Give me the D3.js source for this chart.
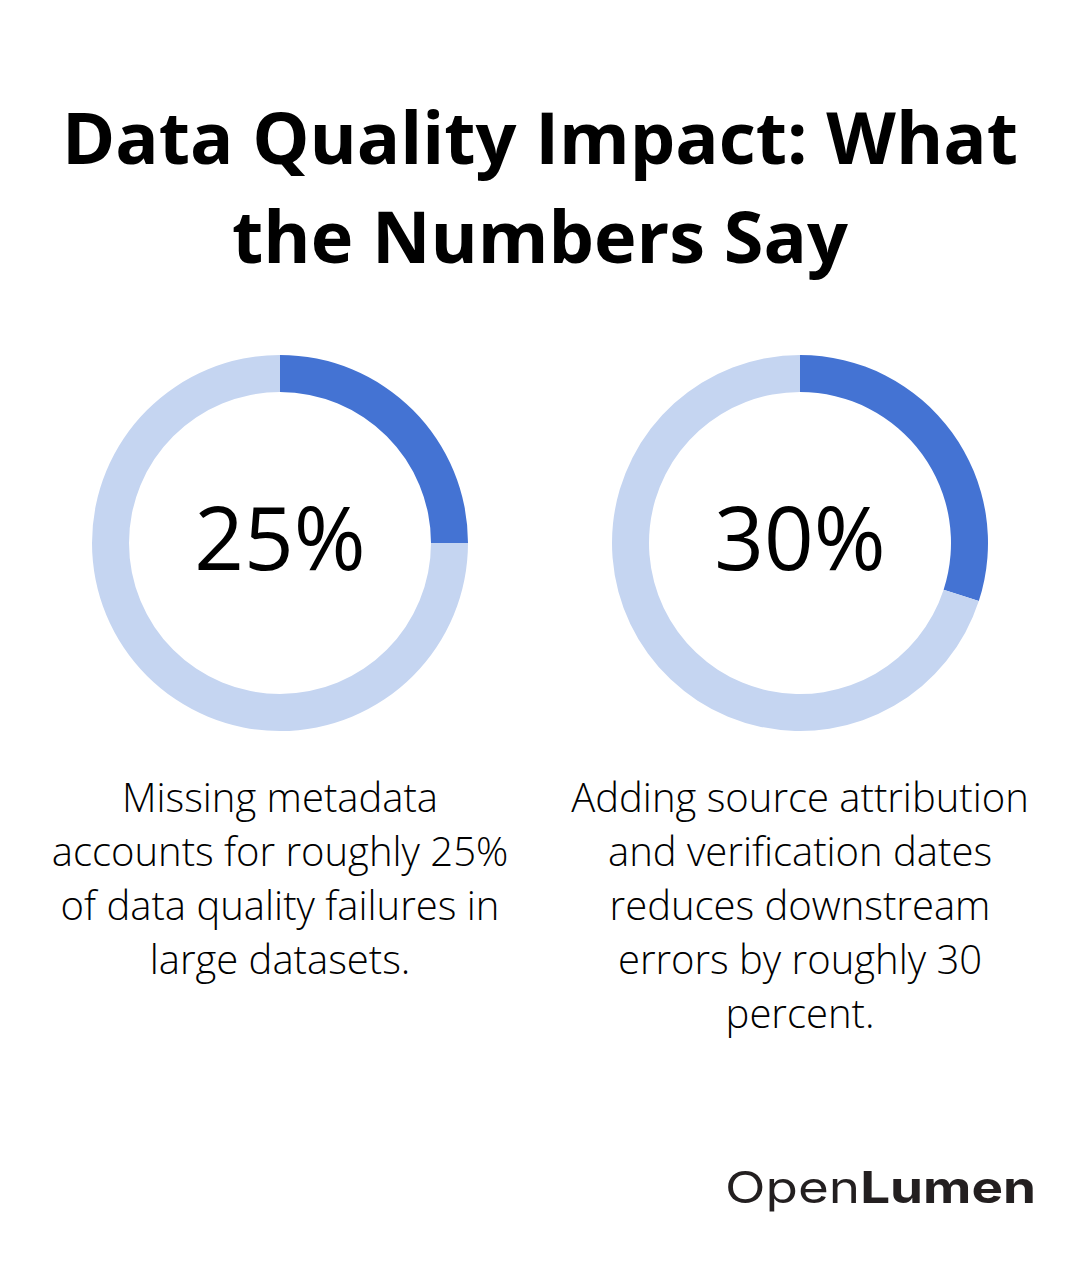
<!DOCTYPE html>
<html>
<head>
<meta charset="utf-8">
<script src="https://cdn.jsdelivr.net/npm/d3@7"></script>
<style>
  html, body { margin: 0; padding: 0; background: #ffffff; }
  svg { display: block; }
</style>
</head>
<body>
<div id="chart"></div>
<script>
// chart data
var titleLines = ['Data Quality Impact: What', 'the Numbers Say'];
var percents = [25, 30];
var valueLabels = ['25%', '30%'];
var descriptions = [
  ['Missing metadata', 'accounts for roughly 25%', 'of data quality failures in', 'large datasets.'],
  ['Adding source attribution', 'and verification dates', 'reduces downstream', 'errors by roughly 30', 'percent.']
];

var width = 1080, height = 1272;
var darkBlue = '#4473d3';
var lightBlue = '#c5d5f1';

var svg = d3.select('#chart').append('svg')
  .attr('width', width)
  .attr('height', height);

// title
svg.append('text')
  .attr('text-anchor', 'middle')
  .style('font-family', '"Open Sans", sans-serif')
  .style('font-weight', 700)
  .style('font-size', '72px')
  .style('fill', '#000')
  .selectAll('tspan')
  .data(titleLines)
  .join('tspan')
  .attr('x', width / 2)
  .attr('y', function(d, i) { return 164 + i * 99; })
  .text(function(d) { return d; });

// column positions
var x = d3.scalePoint()
  .domain(d3.range(percents.length))
  .range([280, 800]);

var pie = d3.pie().sort(null).value(function(d) { return d; });
var arc = d3.arc().innerRadius(151).outerRadius(188);

var groups = svg.selectAll('g.stat')
  .data(percents)
  .join('g')
  .attr('class', 'stat')
  .attr('transform', function(d, i) { return 'translate(' + x(i) + ',543)'; });

//donut ring: value part and the rest
groups.selectAll('path')
  .data(function(d) { return pie([d, 100 - d]); })
  .join('path')
  .attr('d', arc)
  .style('fill', function(d, i) { return i === 0 ? darkBlue : lightBlue; });

// big number in the middle
groups.append('text')
  .attr('text-anchor', 'middle')
  .attr('y', 27)
  .style('font-family', '"Open Sans", sans-serif')
  .style('font-weight', 400)
  .style('font-size', '87px')
  .style('fill', '#000')
  .text(function(d, i) { return valueLabels[i]; });

// description below each ring
groups.append('text')
  .attr('text-anchor', 'middle')
  .style('font-family', '"Open Sans", sans-serif')
  .style('font-weight', 300)
  .style('font-size', '40px')
  .style('fill', '#000')
  .selectAll('tspan')
  .data(function(d, i) { return descriptions[i]; })
  .join('tspan')
  .attr('x', 0)
  .attr('y', function(d, i) { return 269 + i * 54; })
  .text(function(d) { return d; });

// logo
var logo = svg.append('text')
  .attr('x', 725)
  .attr('y', 1203)
  .attr('textLength', 311)
  .attr('lengthAdjust', 'spacingAndGlyphs')
  .style('font-family', 'Inter, sans-serif')
  .style('font-size', '44px')
  .style('fill', '#231f20');
logo.append('tspan').style('font-weight', 400).text('Open');
logo.append('tspan').style('font-weight', 700).text('Lumen');
</script>
</body>
</html>
